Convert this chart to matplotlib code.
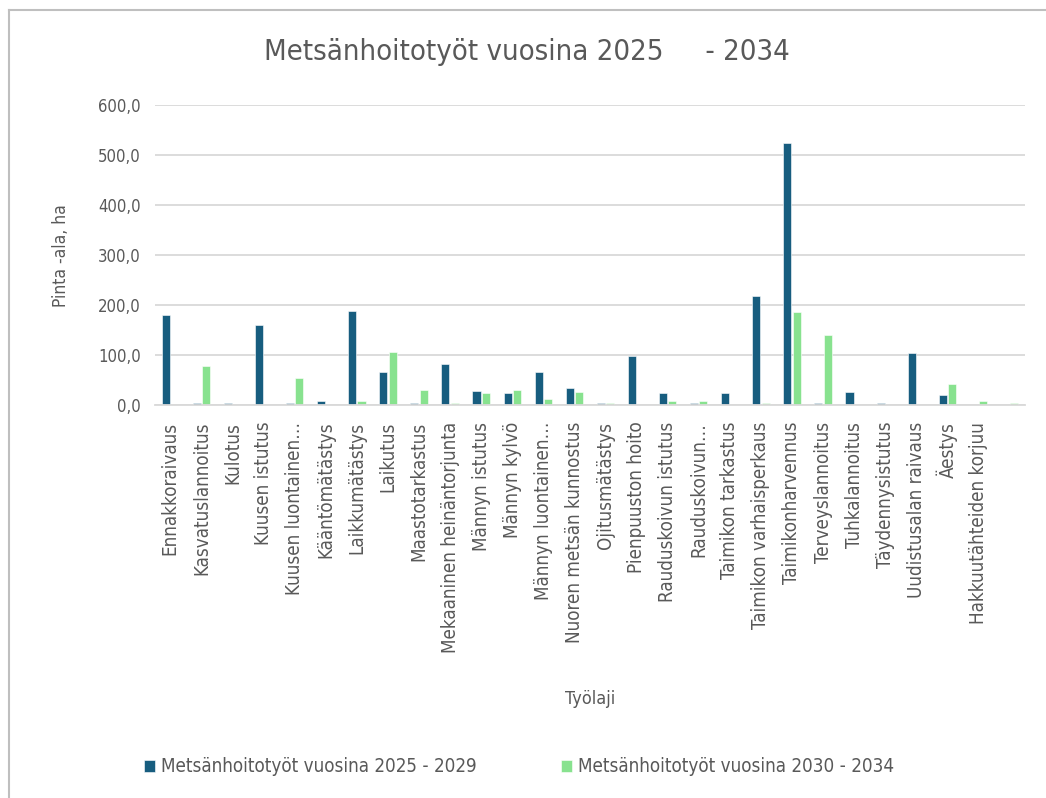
import numpy as np
import matplotlib.pyplot as plt
from matplotlib.lines import Line2D

plt.rcParams['font.family'] = ['DejaVu Sans']
plt.rcParams['font.stretch'] = 'condensed'

categories = ['Ennakkoraivaus', 'Kasvatuslannoitus', 'Kulotus', 'Kuusen istutus',
              'Kuusen luontainen…', 'Kääntömätästys', 'Laikkumätästys', 'Laikutus',
              'Maastotarkastus', 'Mekaaninen heinäntorjunta', 'Männyn istutus',
              'Männyn kylvö', 'Männyn luontainen…', 'Nuoren metsän kunnostus',
              'Ojitusmätästys', 'Pienpuuston hoito', 'Rauduskoivun istutus',
              'Rauduskoivun…', 'Taimikon tarkastus', 'Taimikon varhaisperkaus',
              'Taimikonharvennus', 'Terveyslannoitus', 'Tuhkalannoitus',
              'Täydennysistutus', 'Uudistusalan raivaus', 'Äestys',
              'Hakkuutähteiden korjuu', '']

v_2025_2029 = [180, 3, 4, 161, 4, 8, 188, 67, 4, 82, 28, 23, 67, 35,
               4, 98, 23, 4, 23, 218, 525, 4, 27, 4, 105, 20, 0, 0]
v_2030_2034 = [0, 78, 0, 0, 55, 0, 8, 106, 31, 4, 23, 31, 12, 27,
               4, 0, 7, 7, 0, 4, 187, 140, 0, 0, 0, 43, 7, 4]

dark = '#175d7f'
green = '#88e28f'
txt = '#595959'

fig = plt.figure(figsize=(10.46, 7.98), dpi=100)
ax = fig.add_axes([0.148, 0.4925, 0.832, 0.3755])

ind = np.arange(len(categories))
width = 0.26
ax.bar(ind - 0.15, v_2025_2029, width, color=dark, edgecolor='white', linewidth=0.4,
       label='Metsänhoitotyöt vuosina 2025 - 2029')
ax.bar(ind + 0.15, v_2030_2034, width, color=green, edgecolor='white', linewidth=0.4,
       label='Metsänhoitotyöt vuosina 2030 - 2034')

ax.set_xlim(-0.5, len(categories) - 0.5)
ax.set_ylim(0, 600)
ax.set_yticks(range(0, 601, 100))
ax.set_yticklabels(['%d,0' % v for v in range(0, 601, 100)], color=txt, fontsize=12)
ax.set_xticks(ind)
ax.set_xticklabels(categories, rotation=90, color=txt, fontsize=13.5)
ax.tick_params(length=0)
ax.tick_params(axis='y', pad=10)
ax.tick_params(axis='x', pad=12)
ax.grid(axis='y', color='#d9d9d9', linewidth=1.3)
ax.set_axisbelow(True)
for s in ['top', 'right', 'left']:
    ax.spines[s].set_visible(False)
ax.spines['bottom'].set_color('#d9d9d9')
ax.spines['bottom'].set_linewidth(1.3)

ax.set_ylabel('Pinta -ala, ha', color=txt, fontsize=12.5, labelpad=20)
ax.set_xlabel('Työlaji', color=txt, fontsize=13)
ax.xaxis.set_label_coords(0.5, -0.95)

fig.text(0.504, 0.935, 'Metsänhoitotyöt vuosina 2025     - 2034', ha='center', va='center',
         fontsize=21, color=txt)

fig.legend(loc='center', bbox_to_anchor=(0.496, 0.039), ncol=2, frameon=False,
           fontsize=13.5, handlelength=0.6, handleheight=0.6, handletextpad=0.3,
           columnspacing=4.5, labelcolor=txt)

fig.add_artist(Line2D([9 / 1046, 9 / 1046], [0, 1 - 10 / 798], color='#bfbfbf', linewidth=1.5))
fig.add_artist(Line2D([9 / 1046, 1], [1 - 10 / 798, 1 - 10 / 798], color='#bfbfbf', linewidth=1.5))

fig.savefig('out.png', dpi=100)
